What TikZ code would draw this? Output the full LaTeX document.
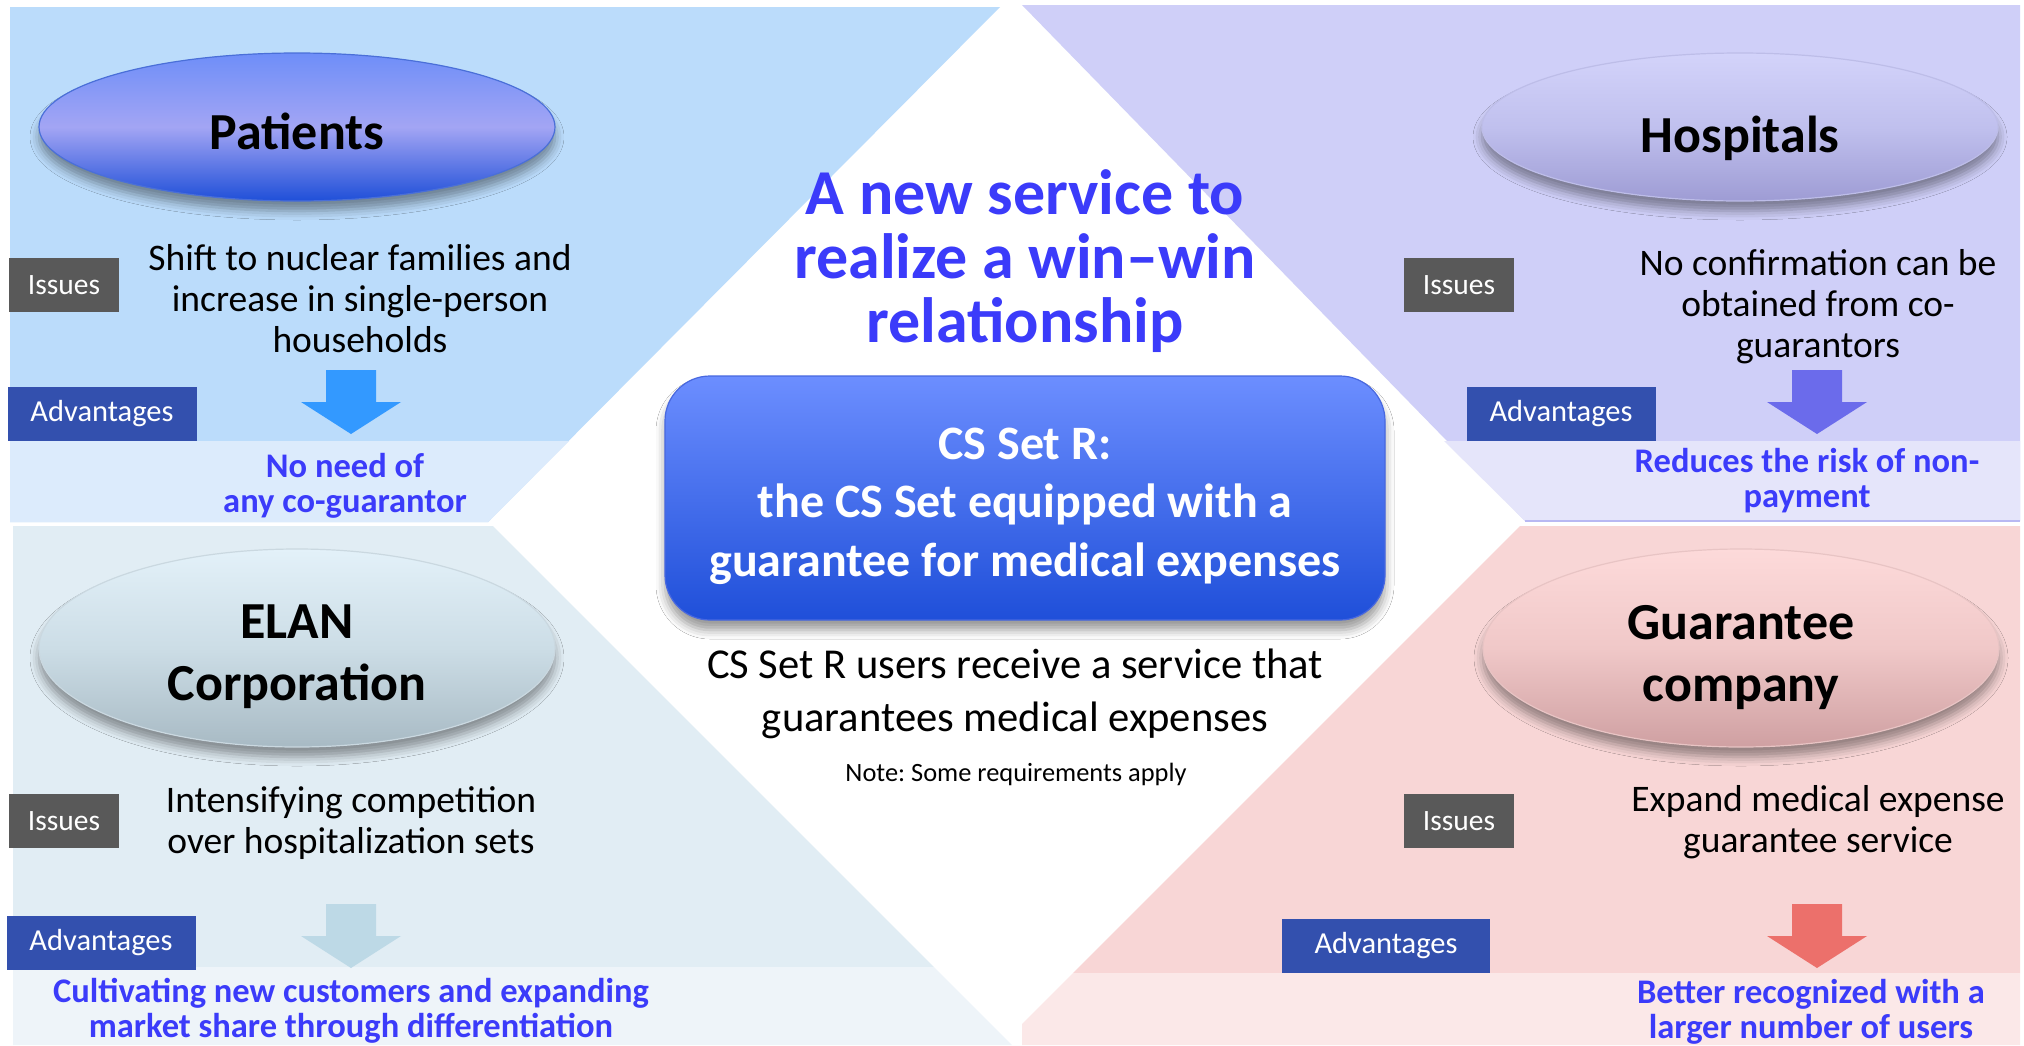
\documentclass[tikz,border=0pt]{standalone}
\usepackage{fontspec}
\setmainfont{Carlito}
\frenchspacing
\usetikzlibrary{shapes.geometric,shadows.blur}
\definecolor{tlpanel}{HTML}{BBDCFB}
\definecolor{tlband}{HTML}{DCEBFC}
\definecolor{trpanel}{HTML}{CFCFF8}
\definecolor{trband}{HTML}{E5E5FA}
\definecolor{trline}{HTML}{B8B8F2}
\definecolor{blpanel}{HTML}{E1EDF4}
\definecolor{blband}{HTML}{EEF4F9}
\definecolor{brpanel}{HTML}{F8D6D6}
\definecolor{brband}{HTML}{FBE8E8}
\definecolor{issuegray}{HTML}{595959}
\definecolor{advblue}{HTML}{3350AE}
\definecolor{txtblue}{HTML}{3B3BFA}
\definecolor{arrTL}{HTML}{3399FF}
\definecolor{arrTR}{HTML}{6B6BEB}
\definecolor{arrBL}{HTML}{BDD9E6}
\definecolor{arrBR}{HTML}{EC706B}
\definecolor{pTop}{HTML}{6E8EF8}
\definecolor{pMid}{HTML}{A3A5F4}
\definecolor{pBot}{HTML}{1F4FD8}
\definecolor{pEdge}{HTML}{4A6FD8}
\definecolor{hTop}{HTML}{D3D3FA}
\definecolor{hMid}{HTML}{C0C0EE}
\definecolor{hBot}{HTML}{9E9CD4}
\definecolor{hEdge}{HTML}{BDBDE8}
\definecolor{eTop}{HTML}{E3F1F9}
\definecolor{eMid}{HTML}{CCDDE6}
\definecolor{eBot}{HTML}{A8BAC4}
\definecolor{eEdge}{HTML}{CAD8E0}
\definecolor{gTop}{HTML}{FDDADA}
\definecolor{gMid}{HTML}{F0C8C8}
\definecolor{gBot}{HTML}{CFA0A2}
\definecolor{gEdge}{HTML}{E8C4C4}
\definecolor{cTop}{HTML}{6C8EFF}
\definecolor{cBot}{HTML}{1F4FD9}
\definecolor{cEdge}{HTML}{4868E0}
\begin{document}
\begin{tikzpicture}[x=1pt,y=-1pt,
  ell/.style={ellipse, inner sep=0pt, line width=1.2pt,
    blur shadow={shadow xshift=0pt, shadow yshift=-10pt, shadow blur radius=9pt, shadow opacity=40}},
  elltxt/.style={align=center, inner sep=0pt, font=\bfseries\fontsize{52}{62}\selectfont},
  issuebox/.style={fill=issuegray, text=white, inner sep=0pt, minimum width=110pt, minimum height=54pt,
    font=\fontsize{29.5}{29.5}\selectfont},
  advbox/.style={fill=advblue, text=white, inner sep=0pt, minimum width=189pt, minimum height=54pt,
    font=\fontsize{30.5}{30.5}\selectfont},
  issuetxt/.style={align=center, inner sep=0pt, font=\fontsize{37.5}{41}\selectfont},
  advtxt/.style={align=center, inner sep=0pt, text=txtblue, font=\bfseries\fontsize{34.5}{35}\selectfont},
  dnarrow/.pic={\fill[pic actions] (-25,0) -- (25,0) -- (25,32) -- (50,32) -- (0,64) -- (-50,32) -- (-25,32) -- cycle;}
]
\useasboundingbox (0,0) rectangle (2024,1045);
\fill[white] (0,0) rectangle (2024,1045);
% panels
\fill[tlpanel] (10,7) -- (1000,7) -- (488,522) -- (10,522) -- cycle;
\fill[tlband] (10,441) -- (569,441) -- (488,522) -- (10,522) -- cycle;
\fill[trpanel] (1022,5) -- (2020,5) -- (2020,521) -- (1525,521) -- cycle;
\fill[trband] (1444,441) -- (2020,441) -- (2020,521) -- (1525,521) -- cycle;
\draw[trline, line width=2pt] (1525,521) -- (2020,521);
\fill[blpanel] (13,526) -- (493,526) -- (934,967) -- (13,967) -- cycle;
\fill[blband] (13,967) -- (934,967) -- (1012,1045) -- (13,1045) -- cycle;
\fill[brpanel] (1520,526) -- (2020,526) -- (2020,973) -- (1073,973) -- cycle;
\fill[brband] (1073,973) -- (2020,973) -- (2020,1045) -- (1022,1045) -- (1022,1024) -- cycle;
% ellipses
\node[ell, top color=pTop, bottom color=pBot, middle color=pMid, draw=pEdge,
  minimum width=516pt, minimum height=148pt] (patients) at (297,127) {};
\node[ell, top color=hTop, bottom color=hBot, middle color=hMid, draw=hEdge,
  minimum width=516pt, minimum height=148pt] (hospitals) at (1740,127) {};
\node[ell, top color=eTop, bottom color=eBot, middle color=eMid, draw=eEdge,
  minimum width=516pt, minimum height=198pt] (elan) at (297,648) {};
\node[ell, top color=gTop, bottom color=gBot, middle color=gMid, draw=gEdge,
  minimum width=516pt, minimum height=198pt] (guar) at (1741,648) {};
\node[elltxt] (patientsT) at ([yshift=-4pt]patients.center) {Patients};
\node[elltxt] (hospitalsT) at ([yshift=-11pt]hospitals.center) {Hospitals};
\node[elltxt] (elanT) at ([yshift=-9pt]elan.center) {ELAN\\Corporation};
\node[elltxt] (guarT) at ([yshift=-10pt]guar.center) {Guarantee\\company};
% issue boxes
\node[issuebox] (iss1) at (64,285) {Issues};
\node[issuebox] (iss2) at (1459,285) {Issues};
\node[issuebox] (iss3) at (64,821) {Issues};
\node[issuebox] (iss4) at (1459,821) {Issues};
% advantage boxes
\node[advbox] (adv1) at (102,414) {Advantages};
\node[advbox] (adv2) at (1561,414) {Advantages};
\node[advbox] (adv3) at (101,943) {Advantages};
\node[advbox, minimum width=208pt] (adv4) at (1386,946) {Advantages};
% arrows
\pic[fill=arrTL] at (351,370) {dnarrow};
\pic[fill=arrTR] at (1817,370) {dnarrow};
\pic[fill=arrBL] at (351,904) {dnarrow};
\pic[fill=arrBR] at (1817,904) {dnarrow};
% issue texts
\node[issuetxt] (t1) at (360,299) {Shift to nuclear families and\\increase in single-person\\households};
\node[issuetxt] (t2) at (1818,307) {No confirmation can be\\obtained from co-\\guarantors};
\node[issuetxt] (t3) at (351,823) {Intensifying competition\\over hospitalization sets};
\node[issuetxt] (t4) at (1818,822) {Expand medical expense\\guarantee service};
% advantage texts
\node[advtxt] (a1) at (345,486) {No need of\\any co-guarantor};
\node[advtxt] (a2) at (1807,481) {Reduces the risk of non-\\payment};
\node[advtxt] (a3) at (351,1011) {Cultivating new customers and expanding\\market share through differentiation};
\node[advtxt] (a4) at (1811,1012) {Better recognized with a\\larger number of users};
% centre
\node[align=center, inner sep=0pt, text=txtblue, font=\bfseries\fontsize{64}{64}\selectfont] (title) at (1025,261)
  {A new service to\\realize a win–win\\relationship};
\node[rounded corners=45pt, minimum width=720pt, minimum height=244pt, top color=cTop, bottom color=cBot,
  draw=cEdge, line width=1.2pt, blur shadow={shadow xshift=0pt, shadow yshift=-10pt, shadow blur radius=9pt, shadow opacity=40}]
  (csbox) at (1025,498) {};
\node[text=white, align=center, inner sep=0pt, font=\bfseries\fontsize{48}{58.5}\selectfont] (csboxT) at ([yshift=-8pt]csbox.center)
  {CS Set R:\\the CS Set equipped with a\\guarantee for medical expenses};
\node[align=center, inner sep=0pt, font=\fontsize{42.6}{53.5}\selectfont] (users) at (1015,694)
  {CS Set R users receive a service that\\guarantees medical expenses};
\node[inner sep=0pt, font=\fontsize{26.4}{30}\selectfont] (note) at (1016,774) {Note: Some requirements apply};
\end{tikzpicture}
\end{document}
